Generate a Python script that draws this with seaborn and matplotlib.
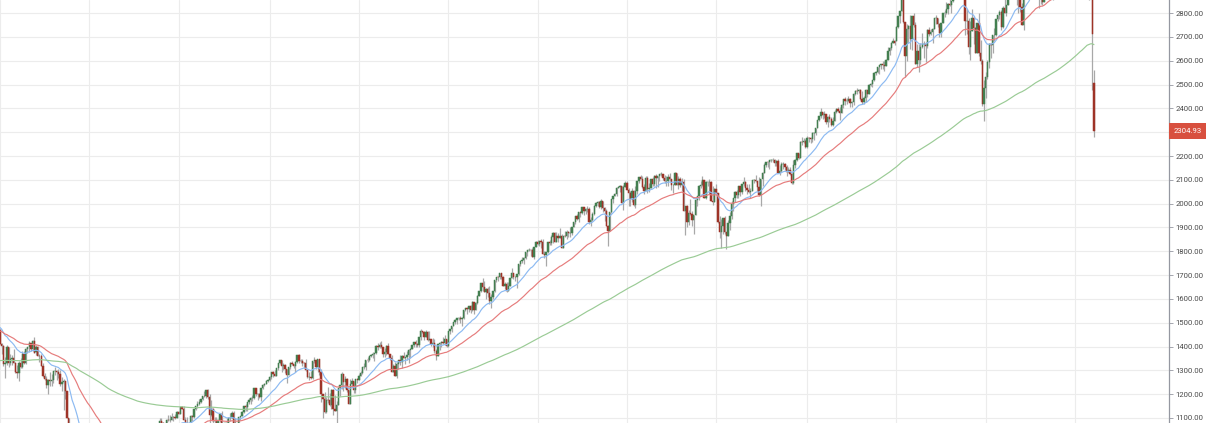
import numpy as np
import pandas as pd
import matplotlib
matplotlib.use("Agg")
import matplotlib.pyplot as plt
import seaborn as sns

# weekly closes 2003-2007, only used to warm up the moving averages
history_closes = [
    909, 927, 901, 861, 856, 829, 835, 849, 841, 829, 808, 895, 864, 876, 868, 894, 898, 930, 933, 945, 933, 964,
    987, 998, 995, 976, 985, 998, 993, 998, 980, 977, 990, 993, 1008, 1021, 1018, 1036, 1010, 1029, 1038, 1039,
    1028, 1050, 1059, 1053, 1050, 1035, 1058, 1061, 1074, 1089, 1095, 1111,
    1122, 1121, 1140, 1141, 1131, 1142, 1145, 1145, 1144, 1156, 1120, 1120, 1108, 1141, 1139, 1134, 1140, 1108,
    1098, 1088, 1095, 1093, 1121, 1123, 1136, 1135, 1134, 1126, 1112, 1101, 1089, 1101, 1064, 1064, 1099, 1107,
    1114, 1123, 1128, 1110, 1131, 1122, 1108, 1095, 1130, 1162, 1184, 1170, 1182, 1191, 1189, 1194, 1210, 1212,
    1186, 1190, 1168, 1171, 1203, 1205, 1201, 1191, 1211, 1210, 1200, 1190, 1172, 1172, 1172, 1142, 1152, 1157,
    1171, 1178, 1189, 1198, 1196, 1200, 1217, 1191, 1194, 1211, 1227, 1233, 1234, 1226, 1230, 1220, 1206, 1212,
    1218, 1241, 1237, 1215, 1229, 1196, 1187, 1177, 1199, 1220, 1234, 1248, 1266, 1265, 1259, 1267, 1256, 1248,
    1285, 1287, 1261, 1283, 1264, 1267, 1287, 1289, 1280, 1278, 1282, 1307, 1302, 1295, 1295, 1289, 1311, 1311,
    1325, 1291, 1267, 1280, 1288, 1252, 1256, 1245, 1270, 1280, 1267, 1240, 1278, 1279, 1267, 1302, 1295, 1304,
    1299, 1319, 1314, 1336, 1335, 1350, 1365, 1368, 1377, 1364, 1380, 1401, 1400, 1410, 1407, 1427, 1410, 1418,
    1409, 1431, 1430, 1422, 1448, 1438, 1456, 1451, 1387, 1402, 1406, 1387, 1436, 1420, 1443, 1452, 1484, 1495,
    1505, 1505, 1522, 1515, 1530, 1536, 1507, 1533, 1502, 1503, 1530, 1552, 1553, 1459, 1433, 1453, 1445, 1479,
    1474, 1454, 1484, 1525, 1527, 1557, 1561, 1500, 1535, 1509, 1453, 1458, 1440, 1481, 1504, 1468, 1484, 1478,
]

first_week = "2008-01-04"

# weekly OHLC, Jan 2008 - Mar 2020, one line per year
opens = [
    1468, 1411, 1401, 1325, 1330, 1396, 1331, 1349, 1353, 1331, 1294, 1288, 1330, 1316, 1370, 1332, 1390, 1398, 1414, 1389, 1425, 1375, 1400, 1361, 1360, 1318, 1278, 1262, 1239, 1261, 1257, 1260, 1296, 1298, 1292, 1283, 1242, 1252, 1255, 1213, 1099, 899, 940, 877, 968, 930, 873, 800, 896, 876, 879, 887,
    873, 932, 890, 850, 832, 826, 869, 827, 770, 735, 683, 756, 768, 816, 843, 857, 870, 866, 877, 930, 883, 887, 919, 940, 946, 921, 918, 896, 879, 940, 979, 987, 1010, 1005, 1026, 1029, 1017, 1042, 1068, 1044, 1025, 1071, 1087, 1080, 1036, 1069, 1093, 1091, 1091, 1106, 1106, 1102, 1126,
    1115, 1145, 1136, 1092, 1074, 1066, 1075, 1109, 1104, 1139, 1150, 1159, 1167, 1179, 1194, 1192, 1217, 1187, 1111, 1136, 1088, 1089, 1065, 1092, 1117, 1076, 1022, 1078, 1065, 1102, 1102, 1121, 1079, 1071, 1065, 1105, 1110, 1126, 1149, 1147, 1166, 1176, 1183, 1183, 1225, 1199, 1199, 1189, 1225, 1240, 1244, 1257,
    1258, 1272, 1293, 1283, 1276, 1310, 1329, 1343, 1320, 1321, 1304, 1279, 1313, 1332, 1328, 1320, 1337, 1364, 1340, 1338, 1333, 1331, 1300, 1271, 1271, 1268, 1340, 1344, 1316, 1346, 1292, 1199, 1179, 1124, 1177, 1174, 1154, 1216, 1136, 1131, 1155, 1225, 1238, 1285, 1253, 1264, 1216, 1159, 1244, 1255, 1219, 1265,
    1258, 1278, 1289, 1315, 1316, 1345, 1343, 1361, 1366, 1370, 1371, 1404, 1397, 1408, 1398, 1370, 1378, 1403, 1369, 1353, 1295, 1318, 1278, 1325, 1343, 1335, 1362, 1354, 1357, 1363, 1386, 1391, 1405, 1418, 1411, 1407, 1438, 1466, 1460, 1441, 1461, 1429, 1433, 1412, 1414, 1380, 1359, 1409, 1416, 1418, 1413, 1430,
    1402, 1466, 1472, 1486, 1503, 1513, 1518, 1520, 1516, 1518, 1552, 1561, 1556, 1569, 1553, 1588, 1555, 1582, 1614, 1633, 1667, 1650, 1631, 1643, 1626, 1593, 1606, 1632, 1680, 1692, 1691, 1710, 1691, 1655, 1664, 1633, 1655, 1688, 1710, 1692, 1691, 1703, 1745, 1760, 1762, 1771, 1798, 1804, 1806, 1805, 1775, 1818,
    1841, 1831, 1842, 1839, 1790, 1783, 1797, 1838, 1836, 1859, 1878, 1841, 1866, 1857, 1865, 1815, 1864, 1863, 1881, 1878, 1878, 1900, 1924, 1950, 1936, 1963, 1961, 1985, 1968, 1978, 1978, 1925, 1931, 1955, 1988, 2003, 2008, 1985, 2010, 1982, 1967, 1906, 1887, 1965, 2018, 2032, 2039, 2064, 2068, 2075, 2002, 2071,
    2088, 2058, 2045, 2019, 2051, 1995, 2055, 2097, 2110, 2105, 2071, 2053, 2108, 2061, 2067, 2102, 2081, 2117, 2108, 2116, 2123, 2126, 2107, 2093, 2094, 2110, 2102, 2077, 2077, 2127, 2080, 2104, 2078, 2092, 1971, 1989, 1921, 1961, 1958, 1932, 1951, 2015, 2033, 2075, 2079, 2099, 2023, 2089, 2090, 2092, 2012, 2006, 2061,
    2044, 1922, 1880, 1907, 1940, 1880, 1865, 1918, 1948, 2000, 2022, 2050, 2036, 2073, 2048, 2081, 2092, 2065, 2057, 2047, 2053, 2099, 2099, 2096, 2071, 2037, 2103, 2130, 2162, 2175, 2174, 2183, 2184, 2184, 2169, 2180, 2128, 2139, 2165, 2168, 2153, 2133, 2141, 2126, 2085, 2164, 2182, 2213, 2192, 2260, 2258, 2263,
    2239, 2277, 2275, 2271, 2295, 2297, 2316, 2351, 2367, 2383, 2373, 2378, 2344, 2363, 2356, 2329, 2349, 2384, 2399, 2391, 2382, 2416, 2439, 2432, 2433, 2438, 2423, 2425, 2459, 2473, 2472, 2477, 2441, 2426, 2443, 2477, 2461, 2500, 2502, 2519, 2549, 2553, 2575, 2581, 2588, 2582, 2579, 2602, 2642, 2652, 2676, 2684,
    2683, 2743, 2786, 2810, 2867, 2762, 2620, 2732, 2747, 2691, 2786, 2752, 2588, 2641, 2604, 2656, 2670, 2670, 2663, 2728, 2713, 2721, 2735, 2779, 2780, 2755, 2718, 2760, 2801, 2802, 2819, 2840, 2833, 2850, 2875, 2902, 2872, 2905, 2930, 2914, 2886, 2767, 2768, 2658, 2723, 2781, 2736, 2633, 2760, 2633, 2600, 2417,
    2486, 2532, 2596, 2671, 2665, 2707, 2708, 2776, 2793, 2804, 2743, 2822, 2801, 2834, 2893, 2907, 2905, 2940, 2946, 2881, 2860, 2826, 2752, 2873, 2887, 2950, 2942, 2990, 3014, 2977, 3026, 2932, 2919, 2889, 2847, 2926, 2979, 3007, 2992, 2962, 2952, 2970, 2986, 3023, 3067, 3093, 3120, 3110, 3141, 3146, 3169, 3221,
    3240, 3235, 3265, 3330, 3295, 3226, 3328, 3380, 3258, 2954, 2863, 2508,
]
highs = [
    1472, 1416, 1407, 1355, 1405, 1396, 1368, 1366, 1388, 1336, 1321, 1341, 1353, 1380, 1380, 1395, 1399, 1423, 1416, 1429, 1440, 1406, 1404, 1370, 1370, 1333, 1291, 1278, 1262, 1292, 1285, 1297, 1313, 1300, 1304, 1303, 1274, 1265, 1255, 1214, 1099, 1006, 985, 984, 1007, 944, 876, 896, 897, 918, 918, 890,
    934, 943, 891, 850, 877, 870, 875, 827, 780, 735, 758, 804, 833, 845, 857, 876, 872, 888, 930, 930, 924, 920, 951, 956, 946, 925, 931, 898, 943, 979, 996, 1018, 1013, 1027, 1040, 1039, 1048, 1074, 1080, 1065, 1076, 1101, 1101, 1085, 1071, 1097, 1113, 1111, 1119, 1107, 1117, 1128, 1130,
    1145, 1150, 1150, 1103, 1104, 1080, 1112, 1112, 1139, 1150, 1170, 1181, 1180, 1194, 1214, 1218, 1220, 1200, 1174, 1141, 1105, 1105, 1092, 1120, 1131, 1076, 1078, 1100, 1103, 1120, 1128, 1130, 1100, 1081, 1105, 1110, 1131, 1149, 1158, 1167, 1184, 1190, 1196, 1227, 1227, 1206, 1206, 1225, 1241, 1247, 1260, 1262,
    1278, 1294, 1296, 1302, 1311, 1331, 1344, 1343, 1333, 1325, 1304, 1314, 1337, 1339, 1328, 1341, 1364, 1370, 1346, 1346, 1334, 1346, 1300, 1292, 1298, 1341, 1356, 1344, 1347, 1346, 1307, 1199, 1208, 1190, 1230, 1204, 1220, 1220, 1195, 1171, 1228, 1239, 1293, 1285, 1277, 1267, 1219, 1265, 1267, 1256, 1265, 1269,
    1285, 1297, 1316, 1333, 1345, 1355, 1362, 1368, 1378, 1374, 1405, 1414, 1420, 1422, 1398, 1393, 1406, 1415, 1370, 1365, 1328, 1335, 1335, 1343, 1364, 1363, 1375, 1357, 1380, 1390, 1395, 1406, 1419, 1426, 1413, 1438, 1474, 1467, 1465, 1470, 1465, 1464, 1433, 1434, 1433, 1389, 1409, 1420, 1424, 1438, 1448, 1432,
    1467, 1473, 1486, 1503, 1514, 1518, 1524, 1530, 1526, 1552, 1563, 1564, 1570, 1574, 1593, 1589, 1585, 1618, 1635, 1667, 1687, 1674, 1646, 1648, 1654, 1620, 1632, 1680, 1693, 1698, 1710, 1710, 1697, 1670, 1670, 1672, 1689, 1730, 1710, 1696, 1704, 1745, 1760, 1776, 1774, 1798, 1804, 1813, 1808, 1812, 1819, 1844,
    1849, 1843, 1851, 1850, 1800, 1798, 1840, 1847, 1867, 1883, 1883, 1883, 1876, 1897, 1873, 1864, 1884, 1891, 1885, 1902, 1901, 1925, 1950, 1956, 1963, 1968, 1985, 1985, 1983, 1991, 1984, 1942, 1964, 1994, 2006, 2011, 2009, 2019, 2010, 1986, 1977, 1912, 1965, 2019, 2034, 2046, 2071, 2075, 2078, 2076, 2077, 2093,
    2094, 2064, 2054, 2064, 2058, 2072, 2097, 2111, 2119, 2118, 2083, 2114, 2114, 2088, 2102, 2111, 2120, 2126, 2117, 2123, 2134, 2126, 2121, 2115, 2126, 2130, 2102, 2082, 2132, 2128, 2114, 2113, 2106, 2102, 1989, 1993, 1975, 2021, 1968, 1951, 2020, 2034, 2079, 2094, 2116, 2099, 2097, 2095, 2104, 2093, 2076, 2064, 2082,
    2044, 1950, 1935, 1940, 1947, 1881, 1930, 1963, 2009, 2022, 2052, 2056, 2075, 2073, 2083, 2111, 2095, 2084, 2084, 2064, 2100, 2105, 2120, 2096, 2113, 2103, 2131, 2169, 2176, 2178, 2184, 2188, 2193, 2187, 2184, 2187, 2163, 2175, 2175, 2169, 2164, 2154, 2155, 2129, 2182, 2189, 2214, 2214, 2261, 2278, 2274, 2273,
    2282, 2279, 2278, 2300, 2299, 2319, 2352, 2368, 2401, 2384, 2391, 2378, 2370, 2378, 2363, 2362, 2392, 2400, 2404, 2406, 2418, 2440, 2446, 2443, 2453, 2443, 2432, 2464, 2478, 2484, 2480, 2480, 2474, 2454, 2481, 2477, 2501, 2508, 2520, 2552, 2557, 2575, 2582, 2588, 2598, 2597, 2606, 2657, 2656, 2680, 2695, 2687,
    2744, 2787, 2810, 2873, 2870, 2763, 2754, 2748, 2790, 2786, 2802, 2762, 2672, 2672, 2675, 2718, 2683, 2677, 2733, 2742, 2734, 2736, 2779, 2791, 2781, 2755, 2760, 2802, 2811, 2848, 2841, 2863, 2852, 2876, 2916, 2906, 2909, 2941, 2940, 2940, 2889, 2816, 2778, 2767, 2816, 2786, 2742, 2760, 2801, 2685, 2607, 2520,
    2553, 2604, 2675, 2672, 2709, 2738, 2776, 2794, 2814, 2812, 2831, 2860, 2836, 2893, 2910, 2916, 2940, 2954, 2946, 2892, 2874, 2841, 2885, 2910, 2964, 2959, 2996, 3018, 3018, 3028, 3027, 2945, 2943, 2939, 2940, 2985, 3021, 3022, 3002, 2993, 2975, 3008, 3027, 3067, 3098, 3120, 3127, 3154, 3147, 3182, 3226, 3248,
    3246, 3268, 3330, 3338, 3295, 3347, 3385, 3393, 3259, 3137, 2882, 2562,
]
lows = [
    1411, 1370, 1320, 1270, 1322, 1316, 1321, 1324, 1330, 1287, 1270, 1257, 1312, 1312, 1328, 1325, 1371, 1379, 1382, 1383, 1371, 1364, 1359, 1335, 1317, 1272, 1260, 1225, 1200, 1235, 1234, 1247, 1282, 1261, 1266, 1236, 1212, 1133, 1180, 1099, 840, 865, 862, 845, 899, 818, 741, 800, 815, 851, 855, 857,
    858, 884, 818, 805, 822, 812, 807, 754, 730, 667, 672, 747, 768, 779, 814, 836, 826, 845, 876, 878, 882, 879, 919, 930, 903, 888, 896, 869, 875, 939, 964, 987, 990, 979, 1016, 992, 1017, 1036, 1041, 1020, 1025, 1068, 1074, 1029, 1030, 1069, 1086, 1083, 1091, 1086, 1095, 1102, 1115,
    1115, 1136, 1090, 1071, 1044, 1056, 1075, 1086, 1100, 1134, 1140, 1155, 1165, 1176, 1187, 1184, 1181, 1066, 1110, 1056, 1040, 1064, 1043, 1085, 1071, 1011, 1022, 1063, 1057, 1088, 1102, 1076, 1069, 1040, 1048, 1090, 1109, 1122, 1131, 1131, 1159, 1160, 1171, 1180, 1194, 1174, 1185, 1173, 1223, 1233, 1242, 1251,
    1255, 1262, 1271, 1276, 1276, 1302, 1326, 1294, 1302, 1291, 1249, 1279, 1305, 1322, 1309, 1295, 1331, 1329, 1329, 1318, 1311, 1297, 1268, 1258, 1262, 1262, 1333, 1306, 1295, 1282, 1168, 1101, 1121, 1121, 1165, 1150, 1136, 1114, 1131, 1074, 1155, 1191, 1221, 1215, 1226, 1209, 1158, 1159, 1231, 1203, 1203, 1248,
    1258, 1275, 1285, 1306, 1300, 1337, 1340, 1356, 1354, 1340, 1370, 1386, 1392, 1395, 1358, 1358, 1366, 1369, 1343, 1292, 1295, 1277, 1267, 1306, 1324, 1309, 1352, 1325, 1345, 1329, 1354, 1391, 1398, 1400, 1397, 1396, 1426, 1455, 1429, 1439, 1425, 1429, 1403, 1396, 1373, 1343, 1359, 1385, 1398, 1411, 1405, 1398,
    1398, 1451, 1461, 1485, 1496, 1495, 1513, 1497, 1485, 1514, 1549, 1538, 1546, 1539, 1548, 1537, 1555, 1577, 1612, 1627, 1635, 1630, 1598, 1607, 1577, 1560, 1601, 1631, 1670, 1676, 1684, 1683, 1654, 1640, 1627, 1633, 1655, 1688, 1685, 1674, 1646, 1702, 1740, 1752, 1746, 1766, 1780, 1800, 1779, 1775, 1767, 1817,
    1828, 1824, 1815, 1790, 1770, 1738, 1794, 1825, 1826, 1834, 1839, 1839, 1839, 1857, 1814, 1815, 1858, 1851, 1859, 1862, 1868, 1900, 1915, 1930, 1925, 1944, 1958, 1952, 1955, 1965, 1916, 1905, 1928, 1954, 1985, 1990, 1983, 1979, 1966, 1926, 1906, 1821, 1886, 1960, 2001, 2030, 2034, 2064, 2049, 2002, 1972, 2069,
    2057, 1992, 1988, 2005, 1989, 1981, 2041, 2085, 2103, 2066, 2040, 2053, 2045, 2048, 2066, 2073, 2073, 2067, 2068, 2093, 2116, 2099, 2085, 2072, 2072, 2097, 2056, 2044, 2077, 2078, 2063, 2071, 2052, 1971, 1867, 1903, 1909, 1953, 1908, 1872, 1951, 1990, 2017, 2066, 2076, 2022, 2019, 2074, 2042, 2012, 1994, 2005, 2043,
    1918, 1857, 1812, 1872, 1872, 1810, 1865, 1891, 1937, 1969, 2007, 2022, 2023, 2033, 2039, 2076, 2053, 2040, 2043, 2025, 2052, 2085, 2089, 2051, 2033, 1992, 2074, 2128, 2155, 2155, 2147, 2175, 2175, 2160, 2158, 2128, 2119, 2132, 2145, 2142, 2115, 2132, 2119, 2084, 2084, 2151, 2181, 2187, 2192, 2247, 2254, 2234,
    2234, 2258, 2254, 2258, 2267, 2289, 2316, 2348, 2358, 2357, 2359, 2336, 2322, 2344, 2328, 2328, 2349, 2380, 2385, 2353, 2382, 2403, 2415, 2418, 2431, 2405, 2407, 2416, 2458, 2459, 2466, 2437, 2417, 2418, 2428, 2446, 2459, 2496, 2488, 2517, 2542, 2547, 2545, 2566, 2566, 2557, 2576, 2601, 2624, 2644, 2673, 2667,
    2683, 2737, 2760, 2808, 2759, 2533, 2599, 2675, 2648, 2647, 2742, 2586, 2575, 2553, 2587, 2652, 2612, 2594, 2655, 2702, 2707, 2676, 2733, 2753, 2743, 2698, 2699, 2758, 2785, 2795, 2795, 2830, 2802, 2847, 2872, 2864, 2867, 2887, 2905, 2874, 2710, 2712, 2628, 2604, 2723, 2671, 2631, 2631, 2621, 2588, 2409, 2346,
    2443, 2524, 2570, 2612, 2631, 2682, 2703, 2767, 2775, 2729, 2739, 2800, 2786, 2834, 2873, 2896, 2898, 2900, 2836, 2801, 2806, 2751, 2728, 2873, 2883, 2912, 2942, 2966, 2973, 2976, 2914, 2822, 2840, 2834, 2845, 2914, 2978, 2985, 2946, 2856, 2874, 2952, 2982, 3017, 3066, 3075, 3091, 3110, 3070, 3124, 3169, 3221,
    3206, 3214, 3262, 3280, 3214, 3223, 3315, 3328, 2855, 2901, 2478, 2280,
]
closes = [
    1411, 1401, 1325, 1330, 1396, 1331, 1349, 1353, 1331, 1294, 1288, 1330, 1316, 1370, 1332, 1390, 1398, 1414, 1389, 1425, 1375, 1400, 1361, 1360, 1318, 1278, 1262, 1239, 1261, 1257, 1260, 1296, 1298, 1292, 1283, 1242, 1252, 1255, 1213, 1099, 899, 940, 877, 968, 930, 873, 800, 896, 876, 879, 887, 873,
    932, 890, 850, 832, 826, 869, 827, 770, 735, 683, 756, 768, 816, 843, 857, 870, 866, 877, 930, 883, 887, 919, 940, 946, 921, 918, 896, 879, 940, 979, 987, 1010, 1005, 1026, 1029, 1017, 1042, 1068, 1044, 1025, 1071, 1087, 1080, 1036, 1069, 1093, 1091, 1091, 1106, 1106, 1102, 1126, 1115,
    1145, 1136, 1092, 1074, 1066, 1075, 1109, 1104, 1139, 1150, 1159, 1167, 1179, 1194, 1192, 1217, 1187, 1111, 1136, 1088, 1089, 1065, 1092, 1117, 1076, 1022, 1078, 1065, 1102, 1102, 1121, 1079, 1071, 1065, 1105, 1110, 1126, 1149, 1147, 1166, 1176, 1183, 1183, 1225, 1199, 1199, 1189, 1225, 1240, 1244, 1257, 1258,
    1272, 1293, 1283, 1276, 1310, 1329, 1343, 1320, 1321, 1304, 1279, 1313, 1332, 1328, 1320, 1337, 1364, 1340, 1338, 1333, 1331, 1300, 1271, 1271, 1268, 1340, 1344, 1316, 1346, 1292, 1199, 1179, 1124, 1177, 1174, 1154, 1216, 1136, 1131, 1155, 1225, 1238, 1285, 1253, 1264, 1216, 1159, 1244, 1255, 1219, 1265, 1258,
    1278, 1289, 1315, 1316, 1345, 1343, 1361, 1366, 1370, 1371, 1404, 1397, 1408, 1398, 1370, 1378, 1403, 1369, 1353, 1295, 1318, 1278, 1325, 1343, 1335, 1362, 1354, 1357, 1363, 1386, 1391, 1405, 1418, 1411, 1407, 1438, 1466, 1460, 1441, 1461, 1429, 1433, 1412, 1414, 1380, 1359, 1409, 1416, 1418, 1413, 1430, 1402,
    1466, 1472, 1486, 1503, 1513, 1518, 1520, 1516, 1518, 1552, 1561, 1556, 1569, 1553, 1588, 1555, 1582, 1614, 1633, 1667, 1650, 1631, 1643, 1626, 1593, 1606, 1632, 1680, 1692, 1691, 1710, 1691, 1655, 1664, 1633, 1655, 1688, 1710, 1692, 1691, 1703, 1745, 1760, 1762, 1771, 1798, 1804, 1806, 1805, 1775, 1818, 1841,
    1831, 1842, 1839, 1790, 1783, 1797, 1838, 1836, 1859, 1878, 1841, 1866, 1857, 1865, 1815, 1864, 1863, 1881, 1878, 1878, 1900, 1924, 1950, 1936, 1963, 1961, 1985, 1968, 1978, 1978, 1925, 1931, 1955, 1988, 2003, 2008, 1985, 2010, 1982, 1967, 1906, 1887, 1965, 2018, 2032, 2039, 2064, 2068, 2075, 2002, 2071, 2088,
    2058, 2045, 2019, 2051, 1995, 2055, 2097, 2110, 2105, 2071, 2053, 2108, 2061, 2067, 2102, 2081, 2117, 2108, 2116, 2123, 2126, 2107, 2093, 2094, 2110, 2102, 2077, 2077, 2127, 2080, 2104, 2078, 2092, 1971, 1989, 1921, 1961, 1958, 1932, 1951, 2015, 2033, 2075, 2079, 2099, 2023, 2089, 2090, 2092, 2012, 2006, 2061, 2044,
    1922, 1880, 1907, 1940, 1880, 1865, 1918, 1948, 2000, 2022, 2050, 2036, 2073, 2048, 2081, 2092, 2065, 2057, 2047, 2053, 2099, 2099, 2096, 2071, 2037, 2103, 2130, 2162, 2175, 2174, 2183, 2184, 2184, 2169, 2180, 2128, 2139, 2165, 2168, 2153, 2133, 2141, 2126, 2085, 2164, 2182, 2213, 2192, 2260, 2258, 2263, 2239,
    2277, 2275, 2271, 2295, 2297, 2316, 2351, 2367, 2383, 2373, 2378, 2344, 2363, 2356, 2329, 2349, 2384, 2399, 2391, 2382, 2416, 2439, 2432, 2433, 2438, 2423, 2425, 2459, 2473, 2472, 2477, 2441, 2426, 2443, 2477, 2461, 2500, 2502, 2519, 2549, 2553, 2575, 2581, 2588, 2582, 2579, 2602, 2642, 2652, 2676, 2684, 2674,
    2743, 2786, 2810, 2873, 2762, 2620, 2732, 2747, 2691, 2786, 2752, 2588, 2641, 2604, 2656, 2670, 2670, 2663, 2728, 2713, 2721, 2735, 2779, 2780, 2755, 2718, 2760, 2801, 2802, 2819, 2840, 2833, 2850, 2875, 2902, 2872, 2905, 2930, 2914, 2886, 2767, 2768, 2658, 2723, 2781, 2736, 2633, 2760, 2633, 2600, 2417, 2486,
    2532, 2596, 2671, 2665, 2707, 2708, 2776, 2793, 2804, 2743, 2822, 2801, 2834, 2893, 2907, 2905, 2940, 2946, 2881, 2860, 2826, 2752, 2873, 2887, 2950, 2942, 2990, 3014, 2977, 3026, 2932, 2919, 2889, 2847, 2926, 2979, 3007, 2992, 2962, 2952, 2970, 2986, 3023, 3067, 3093, 3120, 3110, 3141, 3146, 3169, 3221, 3240,
    3235, 3265, 3330, 3295, 3226, 3328, 3380, 3338, 2954, 2972, 2711, 2304.93,
]

ma_spans = {"EMA 20": 20, "EMA 50": 50, "EMA 200": 200}
ma_colors = {"EMA 20": "#8cbaf2", "EMA 50": "#e67c7c", "EMA 200": "#9acb95"}
up_color = "#437f50"
down_color = "#9e3327"
wick_color = "#a8a8a8"

df = pd.DataFrame({
    "date": pd.date_range(first_week, periods=len(closes), freq="W-FRI"),
    "open": opens, "high": highs, "low": lows, "close": closes,
})
df["bar"] = np.arange(len(df))

# moving averages over the whole history, then keep the visible part
all_closes = pd.Series(history_closes + closes, dtype=float)
n_hist = len(history_closes)
ma = pd.DataFrame({"bar": df["bar"]})
for name, span in ma_spans.items():
    ma[name] = all_closes.ewm(span=span).mean().iloc[n_hist:].to_numpy()
ma_long = ma.melt(id_vars="bar", var_name="line", value_name="value")

sns.set_theme(style="white")
plt.rcParams["font.family"] = ["Roboto", "DejaVu Sans"]

fig = plt.figure(figsize=(12.1, 4.23), dpi=100)
ax = fig.add_axes([0, 0, 1169 / 1210, 1])

# candles
up = df["close"] >= df["open"]
body_colors = np.where(up, up_color, down_color)
ax.vlines(df["bar"], df["low"], df["high"], color=wick_color, linewidth=0.9, zorder=2)
ax.bar(df["bar"], df["close"] - df["open"], bottom=df["open"], width=0.8,
       color=body_colors, edgecolor=body_colors, linewidth=0.35, zorder=3)

sns.lineplot(data=ma_long, x="bar", y="value", hue="line", palette=ma_colors,
             linewidth=0.85, legend=False, ax=ax, zorder=4)

ax.set_xlim(1.45, 680.7)
ax.set_ylim(1079, 2855)

# vertical grid at the first bar of each year
year_starts = df.groupby(df["date"].dt.year)["bar"].min().to_numpy()
ax.set_xticks(year_starts)
ax.tick_params(axis="x", length=0, labelbottom=False)

yticks = np.arange(1100, 2801, 100)
ax.set_yticks(yticks)
ax.set_yticklabels(["" if v == 2300 else f"{v:.2f}" for v in yticks])
ax.yaxis.tick_right()
ax.tick_params(axis="y", labelsize=5.6, labelcolor="#4a4a4a", color="#9598a1",
               length=3, width=0.6, pad=1.5)
ax.set_xlabel("")
ax.set_ylabel("")

ax.grid(True, color="#ececec", linewidth=0.8)
ax.set_axisbelow(True)
for side in ["top", "left", "bottom"]:
    ax.spines[side].set_visible(False)
ax.spines["right"].set_color("#9598a1")
ax.spines["right"].set_linewidth(0.9)

# last price tag on the axis
last = closes[-1]
ax.annotate(f"{last:.2f}", xy=(1, last), xycoords=ax.get_yaxis_transform(),
            xytext=(3.2, 0), textcoords="offset points", ha="left", va="center",
            fontsize=5.6, color="white", annotation_clip=False,
            bbox=dict(boxstyle="square,pad=0.6", fc="#d8503f", ec="none"))

fig.savefig("out.png", dpi=100)
